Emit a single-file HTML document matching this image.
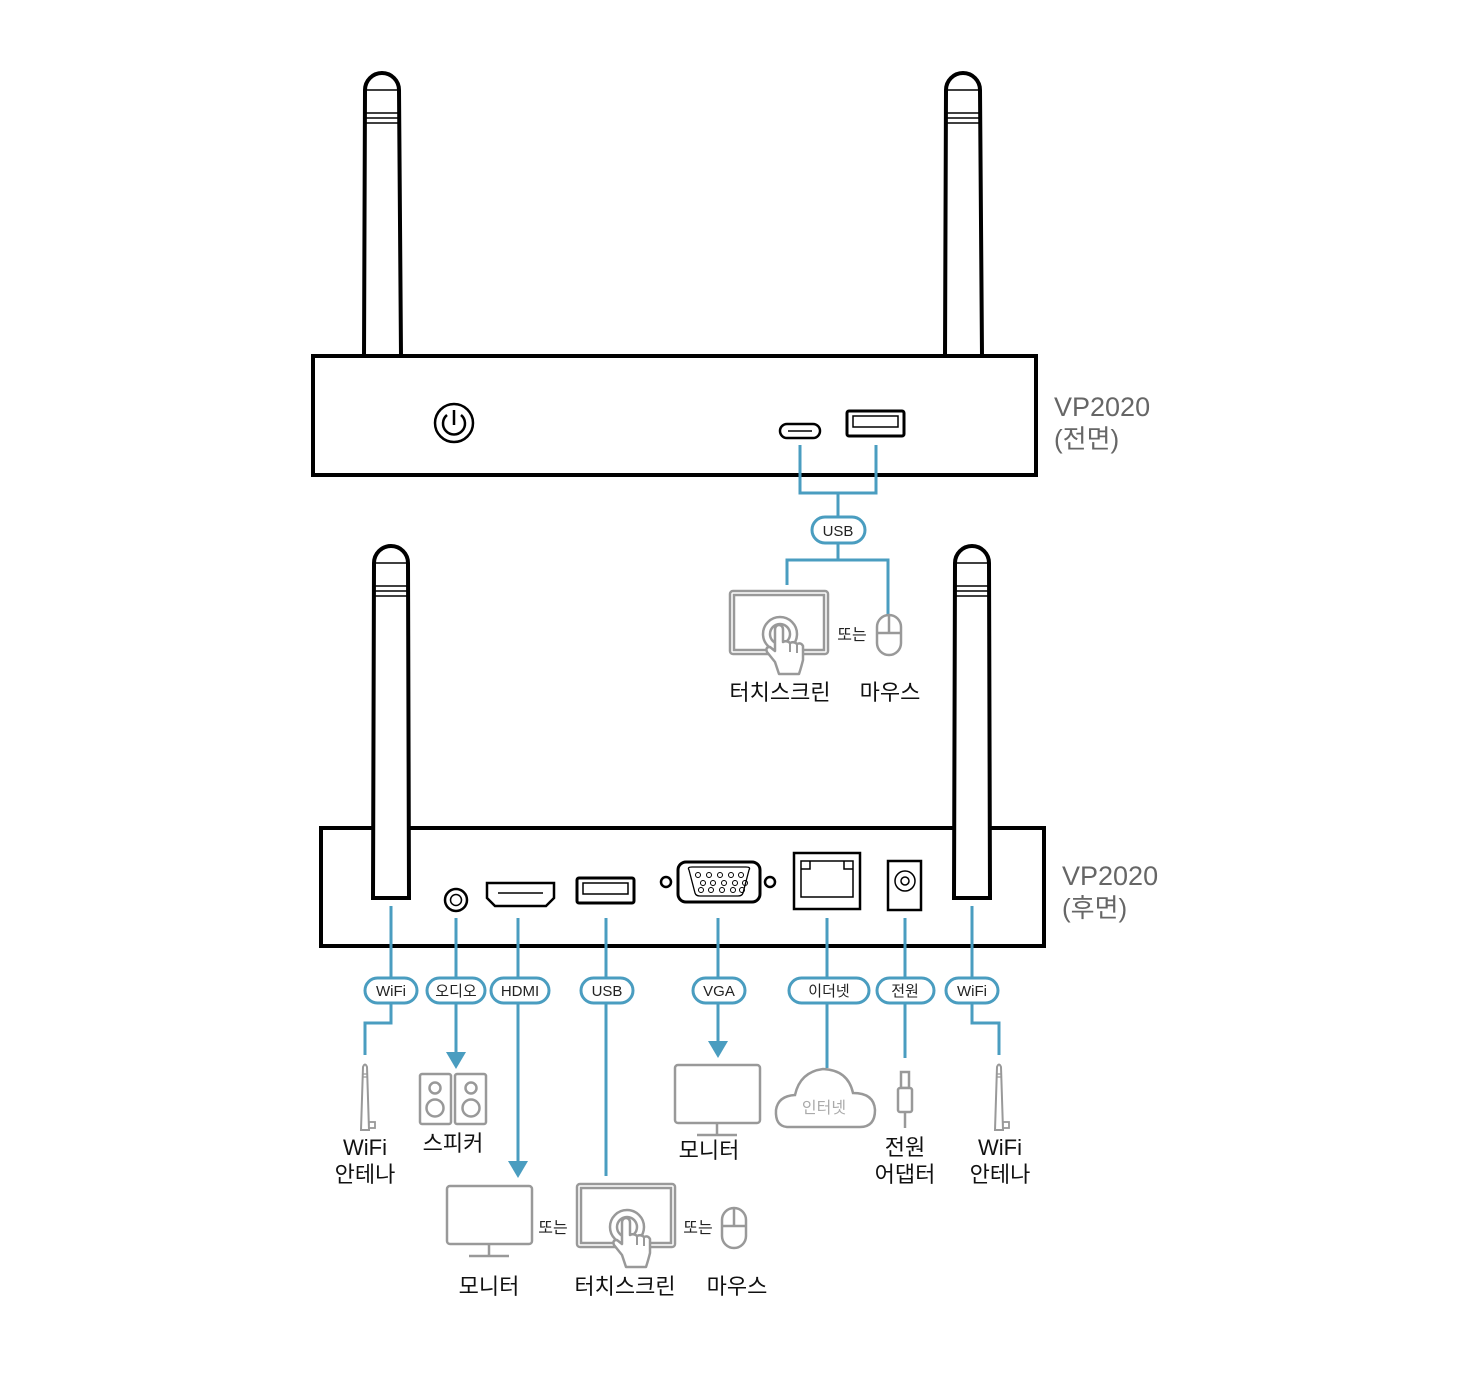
<!DOCTYPE html>
<html><head><meta charset="utf-8"><style>
html,body{margin:0;padding:0;background:#fff}
svg{display:block}
text{font-family:"Liberation Sans","Noto Sans CJK KR",sans-serif}
</style></head><body>
<svg width="1458" height="1377" viewBox="0 0 1458 1377" xmlns="http://www.w3.org/2000/svg">
<defs>
<g id="ts">
  <rect x="1" y="1" width="98" height="63" rx="3" fill="#fff" stroke="#999" stroke-width="2.5"/>
  <rect x="5" y="5" width="90" height="55" fill="none" stroke="#999" stroke-width="2.5"/>
  <circle cx="51" cy="44" r="17" fill="#fff" stroke="#999" stroke-width="2.5"/>
  <circle cx="51" cy="44" r="10" fill="#fff" stroke="#999" stroke-width="2.5"/>
  <path d="M46,72 L38,62 Q36,57 41,57 L46,61 L46,40 Q46,35 50,35 Q54,35 54,40 L54,52 Q58,50 61,53 Q65,51 68,54 Q72,52 74,56 L74,70 Q72,78 70,84 L50,84 Z" fill="#fff" stroke="#999" stroke-width="2.5" stroke-linejoin="round"/>
  <path d="M61,53 L61,62 M68,54 L68,63" stroke="#999" stroke-width="2" fill="none"/>
</g>
<g id="mouse">
  <rect x="-12" y="-20" width="24" height="40" rx="12" fill="#fff" stroke="#999" stroke-width="2.5"/>
  <path d="M-12,-2 H12 M0,-20 V-2" stroke="#999" stroke-width="2.5"/>
</g>
<g id="mon">
  <rect x="1" y="1" width="85" height="58" rx="3" fill="#fff" stroke="#999" stroke-width="2.5"/>
  <path d="M43,60 V71 M23,71 H63" stroke="#999" stroke-width="2.5"/>
</g>
<g id="ant">
  <path d="M-4,68 L-2,5 Q0,0 2,5 L4,68 Z" fill="#fff" stroke="#999" stroke-width="2"/>
  <path d="M-3,12 H3 M-3,15 H3" stroke="#999" stroke-width="1.2"/>
  <rect x="4" y="60" width="6" height="6" fill="#fff" stroke="#999" stroke-width="1.8"/>
</g>
</defs>

<!-- Front unit -->
<g stroke="#000" stroke-width="4" fill="#fff">
  <path d="M364,356 L365,90 A17,17 0 0 1 399,90 L401,356"/>
  <path d="M945,356 L946,90 A17,17 0 0 1 980,90 L982,356"/>
</g>
<g stroke="#000" stroke-width="1.5">
  <path d="M366,90 H398 M366,113 H398 M366,118 H398 M366,123 H398"/>
  <path d="M947,90 H979 M947,113 H979 M947,118 H979 M947,123 H979"/>
</g>
<rect x="313" y="356" width="723" height="119" fill="#fff" stroke="#000" stroke-width="4"/>
<circle cx="454" cy="423" r="19" fill="none" stroke="#000" stroke-width="2.5"/>
<path d="M447,415 A11,11 0 1 0 461,415 M454,410 V425" fill="none" stroke="#000" stroke-width="2.5"/>
<rect x="780" y="424" width="40" height="14" rx="7" fill="none" stroke="#000" stroke-width="2.5"/>
<path d="M788,431 H812" stroke="#000" stroke-width="1.5"/>
<rect x="847" y="411" width="57" height="25" rx="2" fill="none" stroke="#000" stroke-width="3"/>
<rect x="853" y="416" width="45" height="11" fill="none" stroke="#000" stroke-width="1.5"/>
<text x="1054" y="416" font-size="27" fill="#666">VP2020</text>
<text x="1054" y="448" font-size="26" fill="#666">(전면)</text>

<g stroke="#4a9dc0" stroke-width="3" fill="none">
  <path d="M800,445 V493 H876 V445 M838,493 V517 M838,543 V560 H888 V615 M838,560 H787 V585"/>
  <rect x="812" y="517" width="53" height="26" rx="13" fill="#fff"/>
</g>
<text x="838" y="536" font-size="15" text-anchor="middle" fill="#222">USB</text>
<use href="#ts" x="729" y="590"/>
<text x="852" y="640" font-size="16" text-anchor="middle" fill="#222">또는</text>
<use href="#mouse" x="889" y="635"/>
<text x="780" y="700" font-size="22" text-anchor="middle" fill="#111">터치스크린</text>
<text x="890" y="700" font-size="22" text-anchor="middle" fill="#111">마우스</text>

<!-- Back unit -->
<rect x="321" y="828" width="723" height="118" fill="#fff" stroke="#000" stroke-width="4"/>
<g stroke="#000" stroke-width="4" fill="#fff">
  <path d="M373,898 L374,563 A17,17 0 0 1 408,563 L409,898 Z"/>
  <path d="M954,898 L955,563 A17,17 0 0 1 989,563 L990,898 Z"/>
</g>
<g stroke="#000" stroke-width="1.5">
  <path d="M375,563 H407 M375,586 H407 M375,591 H407 M375,596 H407"/>
  <path d="M956,563 H988 M956,586 H988 M956,591 H988 M956,596 H988"/>
</g>
<text x="1062" y="885" font-size="27" fill="#666">VP2020</text>
<text x="1062" y="917" font-size="26" fill="#666">(후면)</text>

<circle cx="456" cy="900" r="11" fill="none" stroke="#000" stroke-width="2.5"/>
<circle cx="456" cy="900" r="5.5" fill="none" stroke="#000" stroke-width="1.5"/>
<path d="M487,883 H554 V898 L546,906 H495 L487,898 Z" fill="none" stroke="#000" stroke-width="2.5"/>
<path d="M498,893 H543" stroke="#000" stroke-width="1.5"/>
<rect x="577" y="878" width="57" height="25" rx="2" fill="none" stroke="#000" stroke-width="3"/>
<rect x="583" y="883" width="45" height="11" fill="none" stroke="#000" stroke-width="1.5"/>
<circle cx="666" cy="882" r="5" fill="none" stroke="#000" stroke-width="2.5"/>
<circle cx="770" cy="882" r="5" fill="none" stroke="#000" stroke-width="2.5"/>
<rect x="678" y="862" width="82" height="40" rx="8" fill="none" stroke="#000" stroke-width="3"/>
<path d="M689,870 Q687,867 692,867 H746 Q751,867 749,870 L743,893 Q742,896 738,896 H700 Q696,896 695,893 Z" fill="none" stroke="#000" stroke-width="1.3"/>
<g fill="none" stroke="#000" stroke-width="1">
  <circle cx="698" cy="875" r="2.5"/><circle cx="709" cy="875" r="2.5"/><circle cx="720" cy="875" r="2.5"/><circle cx="731" cy="875" r="2.5"/><circle cx="741" cy="875" r="2.5"/>
  <circle cx="703" cy="883" r="2.5"/><circle cx="713" cy="883" r="2.5"/><circle cx="724" cy="883" r="2.5"/><circle cx="735" cy="883" r="2.5"/><circle cx="745" cy="883" r="2.5"/>
  <circle cx="701" cy="890" r="2.5"/><circle cx="711" cy="890" r="2.5"/><circle cx="722" cy="890" r="2.5"/><circle cx="733" cy="890" r="2.5"/><circle cx="742" cy="890" r="2.5"/>
</g>
<rect x="794" y="853" width="66" height="56" fill="none" stroke="#000" stroke-width="2.5"/>
<path d="M801,861 H853 V897 H801 Z M801,869 H810 V861 M853,869 H844 V861" fill="none" stroke="#000" stroke-width="1.5"/>
<rect x="888" y="861" width="33" height="49" fill="none" stroke="#000" stroke-width="2.5"/>
<circle cx="905" cy="881" r="10" fill="none" stroke="#000" stroke-width="1.5"/>
<circle cx="905" cy="881" r="4" fill="none" stroke="#000" stroke-width="1.5"/>

<!-- connectors -->
<g stroke="#4a9dc0" stroke-width="3" fill="none">
  <path d="M391,906 V978 M391,1003 V1023 H365 V1055"/>
  <path d="M456,918 V978 M456,1003 V1054"/>
  <path d="M518,918 V978 M518,1003 V1163"/>
  <path d="M606,918 V978 M606,1003 V1176"/>
  <path d="M718,918 V978 M718,1003 V1043"/>
  <path d="M827,918 V978 M827,1003 V1068"/>
  <path d="M905,918 V978 M905,1003 V1058"/>
  <path d="M972,906 V978 M972,1003 V1023 H999 V1055"/>
  <g fill="#fff">
    <rect x="365" y="978" width="52" height="25" rx="12.5"/>
    <rect x="427" y="978" width="58" height="25" rx="12.5"/>
    <rect x="491" y="978" width="58" height="25" rx="12.5"/>
    <rect x="581" y="978" width="52" height="25" rx="12.5"/>
    <rect x="693" y="978" width="52" height="25" rx="12.5"/>
    <rect x="789" y="978" width="80" height="25" rx="12.5"/>
    <rect x="877" y="978" width="57" height="25" rx="12.5"/>
    <rect x="946" y="978" width="52" height="25" rx="12.5"/>
  </g>
</g>
<g fill="#4a9dc0">
  <path d="M446,1052 H466 L456,1069 Z"/>
  <path d="M508,1161 H528 L518,1178 Z"/>
  <path d="M708,1041 H728 L718,1058 Z"/>
</g>
<g font-size="15" text-anchor="middle" fill="#222">
  <text x="391" y="996">WiFi</text>
  <text x="456" y="996">오디오</text>
  <text x="520" y="996">HDMI</text>
  <text x="607" y="996">USB</text>
  <text x="719" y="996">VGA</text>
  <text x="829" y="996">이더넷</text>
  <text x="905" y="996">전원</text>
  <text x="972" y="996">WiFi</text>
</g>

<!-- devices -->
<use href="#ant" x="365" y="1062"/>
<use href="#ant" x="999" y="1062"/>
<g fill="#fff" stroke="#999" stroke-width="2.5">
  <rect x="420" y="1074" width="31" height="50" rx="2"/>
  <rect x="455" y="1074" width="31" height="50" rx="2"/>
  <circle cx="435" cy="1088" r="5.5"/><circle cx="435" cy="1108" r="8.5"/>
  <circle cx="471" cy="1088" r="5.5"/><circle cx="471" cy="1108" r="8.5"/>
</g>
<use href="#mon" x="674" y="1064"/>
<path d="M787,1127 Q775,1126 776,1110 Q778,1096 795,1095 Q800,1072 823,1069 Q848,1070 853,1093 Q874,1093 875,1110 Q875,1127 860,1127 Z" fill="#fff" stroke="#999" stroke-width="2.5"/>
<text x="824" y="1113" font-size="16" text-anchor="middle" fill="#aaa">인터넷</text>
<g fill="#fff" stroke="#999" stroke-width="2.5">
  <rect x="901" y="1072" width="8" height="16"/>
  <rect x="898" y="1088" width="14" height="24" rx="2"/>
  <path d="M905,1112 V1128" fill="none"/>
</g>
<use href="#mon" x="446" y="1185"/>
<use href="#ts" x="576" y="1183"/>
<text x="553" y="1233" font-size="16" text-anchor="middle" fill="#222">또는</text>
<text x="698" y="1233" font-size="16" text-anchor="middle" fill="#222">또는</text>
<use href="#mouse" x="734" y="1228"/>

<g font-size="22" text-anchor="middle" fill="#111">
  <text x="365" y="1155">WiFi</text>
  <text x="365" y="1182">안테나</text>
  <text x="453" y="1151">스피커</text>
  <text x="709" y="1158">모니터</text>
  <text x="905" y="1155">전원</text>
  <text x="905" y="1182">어댑터</text>
  <text x="1000" y="1155">WiFi</text>
  <text x="1000" y="1182">안테나</text>
  <text x="489" y="1294">모니터</text>
  <text x="625" y="1294">터치스크린</text>
  <text x="737" y="1294">마우스</text>
</g>
</svg>
</body></html>
